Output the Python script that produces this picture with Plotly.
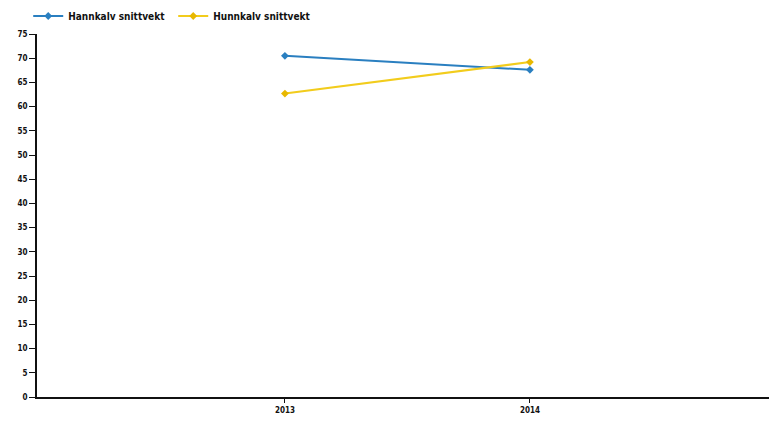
import plotly.graph_objects as go

years = [2013, 2014]
hannkalv = [70.5, 67.6]
hunnkalv = [62.7, 69.2]
series_names = ["Hannkalv snittvekt", "Hunnkalv snittvekt"]
y_ticks = list(range(0, 80, 5))

fig = go.Figure()
fig.add_trace(go.Scatter(x=years, y=hannkalv, name=series_names[0], mode="lines+markers",
                         line=dict(color="#2a7fc0", width=2),
                         marker=dict(symbol="diamond", size=6, color="#2a7fc0")))
fig.add_trace(go.Scatter(x=years, y=hunnkalv, name=series_names[1], mode="lines+markers",
                         line=dict(color="#f2cc1c", width=2),
                         marker=dict(symbol="diamond", size=6, color="#e8b800")))

tick_font = dict(size=8, family="DejaVu Sans Condensed, DejaVu Sans", weight="bold", color="#111")

fig.update_layout(
    width=769, height=425,
    margin=dict(l=37, r=0, t=34, b=28),
    paper_bgcolor="white", plot_bgcolor="white",
    font=dict(family="DejaVu Sans", size=9, color="#111"),
    showlegend=True,
    legend=dict(orientation="h", x=-0.012, xanchor="left", yref="container", y=1 - 16 / 425,
                yanchor="middle",
                font=dict(size=10, color="#111", family="DejaVu Sans Condensed, DejaVu Sans", weight="bold"),
                itemwidth=30, entrywidth=100, bgcolor="rgba(0,0,0,0)"),
    xaxis=dict(range=[2011.988, 2014.976], tickvals=years, ticktext=[str(y) for y in years],
               showgrid=False, zeroline=False, showline=True, linecolor="#111", linewidth=2,
               ticks="outside", ticklen=4, tickcolor="#111", tickfont=tick_font),
    yaxis=dict(range=[0, 75], tickvals=y_ticks, showgrid=False, zeroline=False,
               showline=True, linecolor="#111", linewidth=2,
               ticks="outside", ticklen=6, tickcolor="#111", tickfont=tick_font),
)

fig.write_html("out.html", config={"displayModeBar": False},
               post_script="document.body.style.margin='0';document.body.style.overflow='hidden';")
